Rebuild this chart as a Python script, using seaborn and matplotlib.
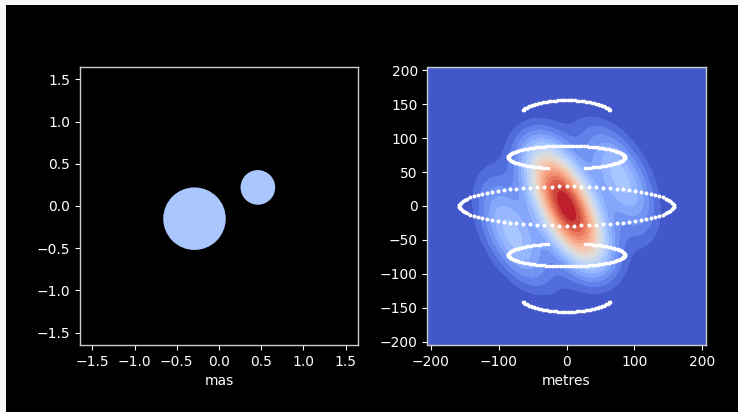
import matplotlib
matplotlib.use("Agg")
import matplotlib.pyplot as plt
from matplotlib.patches import Circle, Rectangle
import numpy as np
import pandas as pd
import seaborn as sns

# model: two uniform disks (mas)
disk_x = [-0.29, 0.46]
disk_y = [-0.15, 0.22]
disk_r = [0.37, 0.205]
disk_colour = "#aac7fd"

# uv tracks (metres): centre v, semi-axes, hour-angle half range, dots
track_v0 = [0, 72, 134]
track_a = [158, 86, 68]
track_b = [29, 17, 22]
track_hmax = [np.pi, np.pi - 0.33, 1.25]
track_n = [90, 120, 50]

# squared visibility: envelope and fringe (metres, degrees)
env_radius = 168
env_power = 2.6
fringe_period = 112
fringe_angle = 27
fringe_floor = 0.33

uv_lim = 205
mas_lim = 1.645

sns.set_style("dark")
plt.rcParams.update({
    "figure.facecolor": "black",
    "axes.facecolor": "black",
    "axes.edgecolor": "#cccccc",
    "axes.labelcolor": "white",
    "xtick.color": "white",
    "ytick.color": "white",
    "xtick.bottom": True,
    "ytick.left": True,
    "axes.grid": False,
    "font.size": 10,
})
plt.rcParams["font.family"] = ["DejaVu Sans"]

# uv points, with the mirrored (-u, -v) half
rows = []
for v0, a, b, hmax, n in zip(track_v0, track_a, track_b, track_hmax, track_n):
    full = np.isclose(hmax, np.pi)
    h = np.linspace(-hmax, hmax, n, endpoint=not full)
    u = a * np.sin(h)
    v = v0 + b * np.cos(h)
    rows.append(pd.DataFrame({"u": u, "v": v}))
    rows.append(pd.DataFrame({"u": -u, "v": -v}))
uv = pd.concat(rows, ignore_index=True)

g = np.linspace(-uv_lim, uv_lim, 301)
U, V = np.meshgrid(g, g)
rho = np.hypot(U, V)
env = np.clip(1 - (rho / env_radius) ** 2, 0, None) ** env_power
t = np.deg2rad(fringe_angle)
across = U * np.cos(t) + V * np.sin(t)
fringe = fringe_floor + (1 - fringe_floor) * np.cos(np.pi * across / fringe_period) ** 2
vis2 = env * fringe

fig = plt.figure(figsize=(7.38, 4.12), dpi=100)
fig.patch.set_facecolor("#f8f8f8")
fig.patches.append(Rectangle((6 / 738, 0), 732 / 738, 407 / 412, transform=fig.transFigure,
                             facecolor="black", edgecolor="none", zorder=-1))

ax1 = fig.add_axes([80 / 738, 67 / 412, 278 / 738, 278 / 412])
ax2 = fig.add_axes([427 / 738, 67 / 412, 279 / 738, 278 / 412])

for x0, y0, r in zip(disk_x, disk_y, disk_r):
    ax1.add_patch(Circle((x0, y0), r, facecolor=disk_colour, edgecolor="none"))
ax1.set_xlim(-mas_lim, mas_lim)
ax1.set_ylim(-mas_lim, mas_lim)
ax1.set_xticks(np.arange(-1.5, 1.51, 0.5))
ax1.set_yticks(np.arange(-1.5, 1.51, 0.5))
ax1.set_xlabel("mas")
ax1.set_aspect("equal")

ax2.contourf(U, V, vis2, levels=20, cmap="coolwarm")
sns.scatterplot(data=uv, x="u", y="v", color="white", s=7, linewidth=0, ax=ax2)
ax2.set_xlim(-uv_lim, uv_lim)
ax2.set_ylim(-uv_lim, uv_lim)
ax2.set_xticks(np.arange(-200, 201, 100))
ax2.set_yticks(np.arange(-200, 201, 50))
ax2.set_xlabel("metres")
ax2.set_ylabel("")
ax2.set_aspect("equal")

for ax in (ax1, ax2):
    for s in ax.spines.values():
        s.set_color("#cccccc")
        s.set_linewidth(1)

fig.savefig("out.png", dpi=100, facecolor=fig.get_facecolor())
